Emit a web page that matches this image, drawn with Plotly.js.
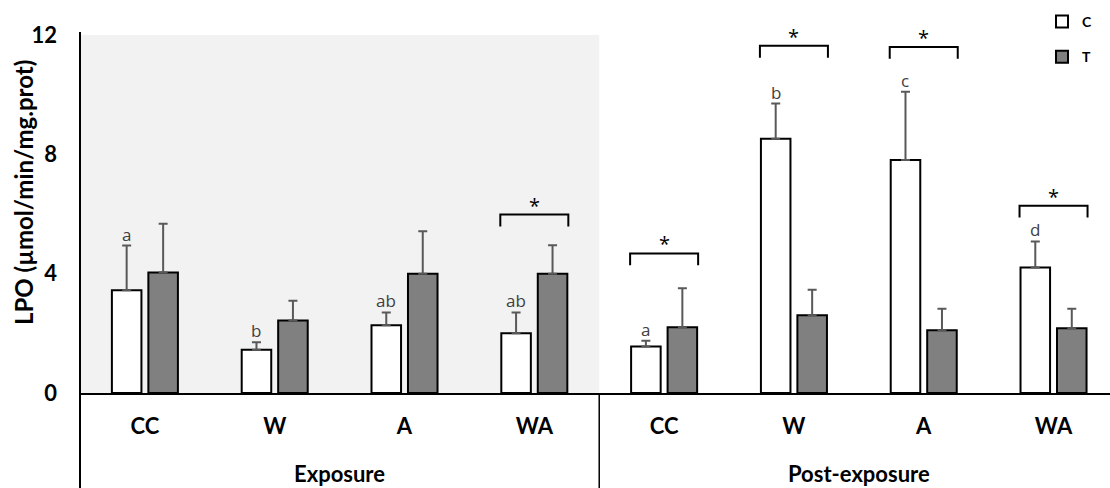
<!DOCTYPE html>
<html>
<head>
<meta charset="utf-8">
<script src="https://cdn.plot.ly/plotly-3.0.1.min.js"></script>
<style>html,body{margin:0;padding:0;background:#fff;}</style>
</head>
<body>
<div id="chart" style="width:1110px;height:488px;"></div>
<script>
// LPO activity, control (C) vs treated (T), during exposure and post-exposure
const phases = ['Exposure', 'Exposure', 'Exposure', 'Exposure',
                'Post-exposure', 'Post-exposure', 'Post-exposure', 'Post-exposure'];
const treatments = ['CC', 'W', 'A', 'WA', 'CC', 'W', 'A', 'WA'];
const controlMean = [3.44, 1.45, 2.27, 2.00, 1.56, 8.52, 7.81, 4.21];
const controlErr  = [1.50, 0.25, 0.43, 0.70, 0.19, 1.18, 2.29, 0.87];
const treatedMean = [4.04, 2.43, 4.00, 4.00, 2.20, 2.61, 2.10, 2.17];
const treatedErr  = [1.63, 0.66, 1.42, 0.95, 1.31, 0.85, 0.72, 0.65];
const controlLetters = ['a', 'b', 'ab', 'ab', 'a', 'b', 'c', 'd'];
const significant = [false, false, false, true, true, true, true, true];
const yTicks = [0, 4, 8, 12];

// layout constants
const BARGAP = 0.438;
const BARGROUPGAP = 0.19;
const whiteOffset = -(1 - BARGAP) / 4;         // centre of the C bar within its group
const bracketHalf = 0.262;                      // bracket spans both bars
const bracketTick = 0.4;                        // height of the bracket legs
const bracketLevel = {3: 5.98, 4: 4.68, 5: 11.64, 6: 11.6, 7: 6.28};
const W = 1110, H = 488;
const plotLeft = 80, plotTop = 35, plotBottom = 393;
const plotW = W - plotLeft, plotH = plotBottom - plotTop;
const belowAxis = -(H - plotBottom) / plotH;

const xs = treatments.map((_, i) => i);
const family = 'Lato, "Liberation Sans", sans-serif';
const labelFont = {family: family, size: 22, color: '#000', weight: 'bold'};

const traceC = {
  type: 'bar', name: 'C', x: xs, y: controlMean,
  marker: {color: '#ffffff', line: {color: '#000', width: 2}},
  error_y: {type: 'data', array: controlErr, arrayminus: controlErr.map(() => 0), symmetric: false,
            color: '#595959', thickness: 2, width: 4.5},
  legendgroup: 'c', hoverinfo: 'y'
};
const traceT = {
  type: 'bar', name: 'T', x: xs, y: treatedMean,
  marker: {color: '#808080', line: {color: '#000', width: 2}},
  error_y: {type: 'data', array: treatedErr, arrayminus: treatedErr.map(() => 0), symmetric: false,
            color: '#595959', thickness: 2, width: 4.5},
  legendgroup: 't', hoverinfo: 'y'
};

const shapes = [
  // shaded exposure period
  {type: 'rect', xref: 'x', yref: 'y', x0: -0.5, x1: 3.5, y0: 0, y1: 12,
   fillcolor: '#f2f2f2', line: {width: 0}, layer: 'below'},
  // long y axis line
  {type: 'line', xref: 'paper', yref: 'paper', x0: 0, x1: 0, y0: belowAxis, y1: 1 + 3 / plotH,
   line: {color: '#000', width: 2}},
  // divider between the two phases
  {type: 'line', xref: 'x', yref: 'paper', x0: 3.5, x1: 3.5, y0: belowAxis, y1: 0,
   line: {color: '#000', width: 1.5}}
];

const annotations = [];
xs.forEach((x, i) => {
  annotations.push({
    x: x + whiteOffset, y: controlMean[i] + controlErr[i], xref: 'x', yref: 'y',
    text: controlLetters[i], showarrow: false, yanchor: 'bottom', yshift: -2,
    font: {family: '"Open Sans", sans-serif', size: 17, color: '#404040'}
  });
  if (significant[i]) {
    const lv = bracketLevel[i];
    shapes.push({
      type: 'path', xref: 'x', yref: 'y',
      path: `M ${x - bracketHalf},${lv - bracketTick} L ${x - bracketHalf},${lv} L ${x + bracketHalf},${lv} L ${x + bracketHalf},${lv - bracketTick}`,
      line: {color: '#000', width: 2}
    });
    annotations.push({
      x: x, y: lv, xref: 'x', yref: 'y', text: '*', showarrow: false,
      yanchor: 'bottom', yshift: -6,
      font: {family: '"Open Sans", sans-serif', size: 20, color: '#000'}
    });
  }
});

// phase labels under the category labels
[...new Set(phases)].forEach(p => {
  const idx = xs.filter(i => phases[i] === p);
  annotations.push({
    x: (idx[0] + idx[idx.length - 1]) / 2, xref: 'x',
    y: -(473 - plotBottom) / plotH, yref: 'paper',
    text: p, showarrow: false, yanchor: 'middle', font: labelFont
  });
});

// y axis title
annotations.push({
  text: 'LPO (µmol/min/mg.prot)', textangle: -90, showarrow: false,
  xref: 'paper', x: -(plotLeft - 23) / plotW, xanchor: 'center',
  yref: 'paper', y: (plotBottom - 193) / plotH, yanchor: 'middle',
  font: {family: family, size: 24, color: '#000', weight: 'bold'}
});

const layout = {
  width: W, height: H,
  margin: {l: plotLeft, r: 0, t: plotTop, b: H - plotBottom, pad: 0, autoexpand: false},
  paper_bgcolor: '#fff', plot_bgcolor: 'rgba(0,0,0,0)',
  barmode: 'group', bargap: BARGAP, bargroupgap: BARGROUPGAP,
  showlegend: true,
  legend: {x: 1042 / W, xref: 'container', xanchor: 'left', y: 1 - 6 / H, yref: 'container', yanchor: 'top',
           font: {family: family, size: 14, color: '#000', weight: 'bold'},
           tracegroupgap: 14, bgcolor: 'rgba(0,0,0,0)', itemwidth: 30},
  xaxis: {
    range: [-0.5, 7.435], tickvals: xs, ticktext: treatments,
    showline: true, linecolor: '#000', linewidth: 2, ticks: '', showgrid: false, zeroline: false,
    tickfont: labelFont, ticklabelstandoff: 13, fixedrange: true, automargin: false
  },
  yaxis: {
    range: [0, 12], tickvals: yTicks, ticktext: yTicks.map(String),
    showline: false, showgrid: false, zeroline: false, ticks: '',
    tickfont: labelFont, ticklabelstandoff: 22, fixedrange: true, automargin: false
  },
  shapes: shapes,
  annotations: annotations
};

Plotly.newPlot('chart', [traceC, traceT], layout, {displayModeBar: false, staticPlot: true});
</script>
</body>
</html>
